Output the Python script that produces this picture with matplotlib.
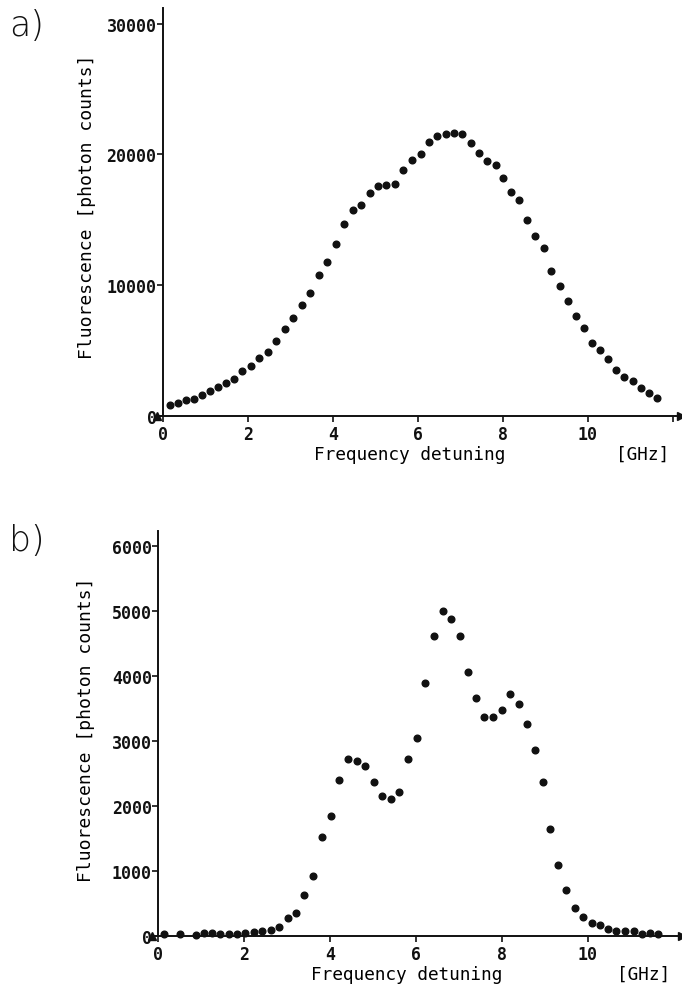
import matplotlib
matplotlib.use("Agg")
import matplotlib.pyplot as plt
import matplotlib.transforms as mtransforms
import numpy as np

# panel a) broad fluorescence profile
freq_a = [0.17, 0.36, 0.55, 0.74, 0.92, 1.11, 1.30, 1.49, 1.68, 1.87,
          2.07, 2.27, 2.47, 2.67, 2.87, 3.07, 3.27, 3.47, 3.67, 3.87,
          4.07, 4.27, 4.47, 4.67, 4.87, 5.07, 5.26, 5.47, 5.66, 5.87,
          6.07, 6.27, 6.46, 6.66, 6.85, 7.05, 7.25, 7.44, 7.64, 7.83,
          8.00, 8.19, 8.38, 8.57, 8.76, 8.96, 9.14, 9.34, 9.53, 9.72,
          9.91, 10.09, 10.28, 10.48, 10.67, 10.86, 11.06, 11.25, 11.44, 11.62]
counts_a = [819, 972, 1178, 1278, 1584, 1867, 2196, 2525, 2808, 3397,
            3826, 4392, 4897, 5715, 6633, 7498, 8447, 9388, 10765, 11737,
            13160, 14644, 15715, 16121, 17039, 17598, 17674, 17705, 18776, 19587,
            20023, 20918, 21400, 21553, 21630, 21530, 20865, 20077, 19510, 19181,
            18164, 17138, 16526, 14950, 13772, 12808, 11094, 9946, 8799, 7628,
            6710, 5562, 5050, 4315, 3519, 2984, 2654, 2142, 1760, 1354]

# panel b) resolved structure
freq_b = [0.15, 0.51, 0.88, 1.08, 1.26, 1.45, 1.65, 1.84, 2.03, 2.23,
          2.43, 2.63, 2.82, 3.02, 3.21, 3.41, 3.61, 3.81, 4.02, 4.22,
          4.43, 4.63, 4.83, 5.02, 5.22, 5.42, 5.62, 5.82, 6.02, 6.22,
          6.43, 6.64, 6.83, 7.02, 7.22, 7.41, 7.60, 7.80, 8.00, 8.20,
          8.40, 8.60, 8.78, 8.96, 9.13, 9.32, 9.51, 9.70, 9.90, 10.10,
          10.29, 10.48, 10.67, 10.87, 11.08, 11.27, 11.46, 11.65]
counts_b = [26, 26, 5, 37, 37, 26, 26, 26, 37, 62,
            68, 83, 129, 268, 345, 627, 925, 1516, 1840, 2404,
            2723, 2687, 2620, 2363, 2157, 2111, 2219, 2723, 3051, 3889,
            4622, 5008, 4880, 4613, 4063, 3658, 3365, 3365, 3477, 3719,
            3565, 3267, 2866, 2373, 1649, 1094, 704, 427, 283, 196,
            165, 103, 77, 68, 68, 31, 42, 26]

yticks_a = [0, 10000, 20000, 30000]
yticks_b = [0, 1000, 2000, 3000, 4000, 5000, 6000]

W, H = 682, 987
fig = plt.figure(figsize=(W / 100, H / 100), dpi=100)
mono = "DejaVu Sans Mono"
ink = "#111111"


def make_panel(rect, x, y, yticks, ytop, xticks, xticklabels, letter, letter_y,
               ylab_x, ylab_y):
    ax = fig.add_axes(rect)
    ax.plot(x, y, "o", ms=4.8, color=ink, mec=ink, clip_on=False)
    ax.set_xlim(-0.14, 12.2)
    ax.set_ylim(0, ytop)
    for s in ("top", "right"):
        ax.spines[s].set_visible(False)
    ax.spines["left"].set_position(("data", 0))
    for s in ("left", "bottom"):
        ax.spines[s].set_linewidth(1.4)
        ax.spines[s].set_color(ink)
    ax.set_yticks(yticks)
    ax.set_yticklabels([str(v) for v in yticks], fontfamily=mono,
                       fontweight="bold", fontsize=12)
    ax.set_xticks(xticks)
    ax.set_xticklabels(xticklabels, fontfamily=mono, fontweight="bold", fontsize=12)
    ax.tick_params(axis="y", direction="out", length=4, width=1.2, pad=0.5, colors=ink)
    ax.tick_params(axis="x", direction="out", length=4, width=1.2, pad=3, colors=ink)
    # arrow heads
    ax.plot(0, 1, "^", ms=6, color=ink, transform=ax.get_yaxis_transform(), clip_on=False)
    ax.plot(1, 0, ">", ms=6, color=ink, transform=ax.transAxes, clip_on=False)
    ax.set_ylabel("Fluorescence [photon counts]", fontfamily=mono, fontsize=13)
    ax.yaxis.set_label_coords(ylab_x, ylab_y)
    tr = mtransforms.blended_transform_factory(ax.transData, ax.transAxes)
    ax.annotate("Frequency detuning", xy=(5.8, 0), xycoords=tr,
                xytext=(0, -27.5), textcoords="offset points",
                ha="center", va="center", fontfamily=mono, fontsize=12.8)
    ax.annotate("[GHz]", xy=(11.3, 0), xycoords=tr,
                xytext=(0, -27.5), textcoords="offset points",
                ha="center", va="center", fontfamily=mono, fontsize=12.8)
    fig.text(27 / W, 1 - letter_y / H, letter, fontsize=25, fontweight="light",
             ha="center", va="center", color=ink)
    return ax


# top panel: y=0 at 416.7 px, 30000 at ~25 px
make_panel([156.8 / W, 1 - 416.7 / H, 524.5 / W, 407.7 / H],
           freq_a, counts_a, yticks_a, 31200,
           [0, 2, 4, 6, 8, 10, 12], ["0", "2", "4", "6", "8", "10", ""],
           "a)", 26, -0.115, 0.514)

# bottom panel: y=0 at 936.7 px
make_panel([152.0 / W, 1 - 936.7 / H, 530.0 / W, 405.0 / H],
           freq_b, counts_b, yticks_b, 6240,
           [0, 2, 4, 6, 8, 10], ["0", "2", "4", "6", "8", "10"],
           "b)", 541, -0.108, 0.51)

fig.savefig("out.png", dpi=100, facecolor="white")
